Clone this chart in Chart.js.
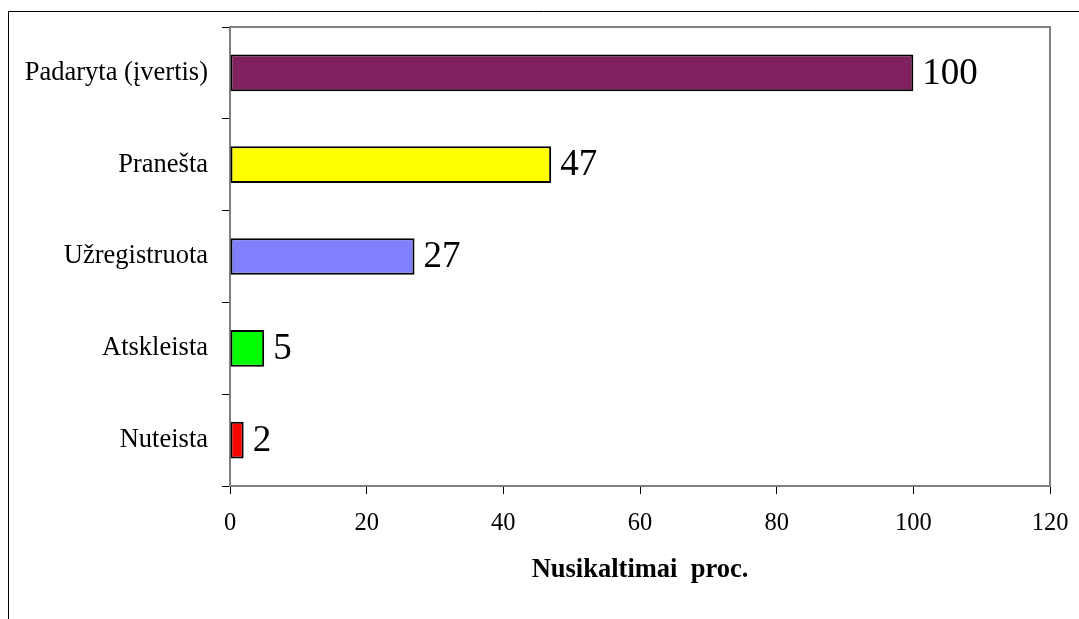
<!DOCTYPE html>
<html>
<head>
<meta charset="utf-8">
<script src="https://cdn.jsdelivr.net/npm/chart.js@4/dist/chart.umd.min.js"></script>
<style>
  body { margin: 0; background: #fff; }
  canvas { display: block; }
</style>
</head>
<body>
<canvas id="crimeChart" width="1079" height="619"></canvas>
<script>
const categories = ['Padaryta (įvertis)', 'Pranešta', 'Užregistruota', 'Atskleista', 'Nuteista'];
const values = [100, 47, 27, 5, 2];
const barColors = ['#80205F', '#FFFF00', '#8080FF', '#00FF00', '#FF0000'];
const xTicks = [0, 20, 40, 60, 80, 100, 120];
const axisTitle = 'Nusikaltimai  proc.';

const serif = "'Liberation Serif', 'Times New Roman', serif";
const axisGrey = '#808080';

Chart.defaults.font.family = serif;
Chart.defaults.color = '#000';

// outer frame lines + grey top/right edge of the plot box
const framePlugin = {
    id: 'frame',
    beforeDraw(chart) {
        const ctx = chart.ctx;
        ctx.save();
        ctx.fillStyle = '#fff';
        ctx.fillRect(0, 0, chart.width, chart.height);
        ctx.strokeStyle = '#000';
        ctx.lineWidth = 1;
        ctx.beginPath();
        ctx.moveTo(8, 11.5);
        ctx.lineTo(chart.width, 11.5);
        ctx.moveTo(8.5, 11);
        ctx.lineTo(8.5, chart.height);
        ctx.stroke();
        ctx.restore();
    },
    afterDraw(chart) {
        const a = chart.chartArea;
        const ctx = chart.ctx;
        ctx.save();
        ctx.strokeStyle = axisGrey;
        ctx.lineWidth = 2;
        ctx.beginPath();
        ctx.moveTo(a.left, a.top);
        ctx.lineTo(a.right, a.top);
        ctx.lineTo(a.right, a.bottom);
        ctx.stroke();
        ctx.restore();
    }
};

// value labels right of each bar
const valueLabels = {
    id: 'valueLabels',
    afterDatasetsDraw(chart) {
        const ctx = chart.ctx;
        const meta = chart.getDatasetMeta(0);
        ctx.save();
        ctx.font = '37px ' + serif;
        ctx.fillStyle = '#000';
        ctx.textAlign = 'left';
        ctx.textBaseline = 'middle';
        meta.data.forEach((bar, i) => {
            ctx.fillText(String(values[i]), bar.x + 9, bar.y + 1);
        });
        ctx.restore();
    }
};

new Chart(document.getElementById('crimeChart'), {
    type: 'bar',
    data: {
        labels: categories,
        datasets: [{
            data: values,
            backgroundColor: barColors,
            borderColor: '#000',
            borderWidth: 2,
            borderSkipped: false,
            barPercentage: 0.4,
            categoryPercentage: 1
        }]
    },
    options: {
        indexAxis: 'y',
        responsive: false,
        animation: false,
        layout: {
            padding: { top: 27, right: 29, bottom: 29, left: 0 }
        },
        plugins: {
            legend: { display: false },
            tooltip: { enabled: false }
        },
        scales: {
            x: {
                min: 0,
                max: 120,
                afterBuildTicks: scale => {
                    scale.ticks = xTicks.map(v => ({ value: v }));
                },
                afterFit: scale => {
                    scale.height = 104;
                    scale.paddingLeft = 0;
                    scale.paddingRight = 0;
                },
                grid: {
                    drawOnChartArea: false,
                    color: '#000',
                    tickLength: 8
                },
                border: { color: axisGrey, width: 2 },
                ticks: {
                    font: { size: 24.5 },
                    color: '#000',
                    padding: 15,
                    maxRotation: 0
                },
                title: {
                    display: true,
                    text: axisTitle,
                    font: { size: 26.5, weight: 'bold' },
                    color: '#000'
                }
            },
            y: {
                afterFit: scale => {
                    scale.width = 230;
                    scale.paddingTop = 0;
                    scale.paddingBottom = 0;
                },
                grid: {
                    drawOnChartArea: false,
                    color: '#000',
                    tickLength: 8,
                    offset: true
                },
                border: { color: axisGrey, width: 2 },
                ticks: {
                    font: { size: 26.5 },
                    color: '#000',
                    padding: 14
                }
            }
        }
    },
    plugins: [framePlugin, valueLabels]
});
</script>
</body>
</html>
